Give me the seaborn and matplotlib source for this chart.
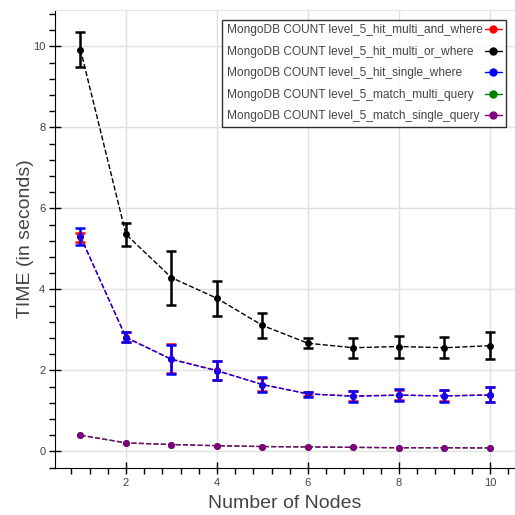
import numpy as np
import pandas as pd
import matplotlib
matplotlib.use("Agg")
import matplotlib.pyplot as plt
import seaborn as sns
from matplotlib.ticker import MultipleLocator

nodes = [1, 2, 3, 4, 5, 6, 7, 8, 9, 10]

# hit_multi_and_where (red)
and_mean = [5.30, 2.82, 2.28, 2.00, 1.65, 1.42, 1.37, 1.39, 1.37, 1.40]
and_low = [5.17, 2.71, 1.93, 1.77, 1.48, 1.36, 1.25, 1.27, 1.25, 1.23]
and_high = [5.40, 2.95, 2.66, 2.23, 1.82, 1.47, 1.48, 1.52, 1.52, 1.59]

# hit_multi_or_where (black)
or_mean = [9.92, 5.36, 4.29, 3.78, 3.11, 2.67, 2.56, 2.59, 2.56, 2.61]
or_low = [9.50, 5.07, 3.62, 3.34, 2.80, 2.55, 2.30, 2.31, 2.30, 2.28]
or_high = [10.35, 5.64, 4.96, 4.21, 3.42, 2.79, 2.81, 2.86, 2.83, 2.94]

# hit_single_where (blue)
single_mean = [5.31, 2.81, 2.27, 1.99, 1.65, 1.42, 1.36, 1.39, 1.37, 1.39]
single_low = [5.09, 2.70, 1.91, 1.76, 1.47, 1.35, 1.23, 1.25, 1.23, 1.21]
single_high = [5.51, 2.96, 2.63, 2.24, 1.83, 1.47, 1.49, 1.53, 1.51, 1.60]

# match queries (green / purple), tiny spread
mmulti_mean = [0.40, 0.21, 0.17, 0.14, 0.12, 0.11, 0.10, 0.09, 0.09, 0.085]
msingle_mean = [0.40, 0.21, 0.17, 0.14, 0.12, 0.11, 0.10, 0.09, 0.09, 0.085]

labels = [
    "MongoDB COUNT level_5_hit_multi_and_where",
    "MongoDB COUNT level_5_hit_multi_or_where",
    "MongoDB COUNT level_5_hit_single_where",
    "MongoDB COUNT level_5_match_multi_query",
    "MongoDB COUNT level_5_match_single_query",
]
colors = ["red", "black", "blue", "green", "purple"]

series = [
    (and_mean, and_low, and_high),
    (or_mean, or_low, or_high),
    (single_mean, single_low, single_high),
    (mmulti_mean, mmulti_mean, mmulti_mean),
    (msingle_mean, msingle_mean, msingle_mean),
]

sns.set_style("white")
plt.rcParams['font.family'] = ['Liberation Sans', 'DejaVu Sans']

fig = plt.figure(figsize=(5.15, 5.15), dpi=100)
ax = fig.add_axes([55 / 515, 47 / 515, 460 / 515, 458 / 515])

for (m, lo, hi), c, lab in zip(series, colors, labels):
    df = pd.DataFrame({"nodes": nodes, "time": m})
    sns.lineplot(data=df, x="nodes", y="time", ax=ax, color=c, linestyle="--",
                 linewidth=1, marker="o", markersize=5, markeredgewidth=0,
                 label=lab, alpha=1)
    m = np.array(m)
    if not np.allclose(lo, hi):
        yerr = [m - np.array(lo), np.array(hi) - m]
        ax.errorbar(nodes, m, yerr=yerr, fmt="none", ecolor=c, elinewidth=1.8,
                    capsize=3.5, capthick=1.8, zorder=3)

ax.set_xlim(0.44, 10.55)
ax.set_ylim(-0.41, 10.9)
ax.xaxis.set_major_locator(MultipleLocator(2))
ax.yaxis.set_major_locator(MultipleLocator(2))
ax.xaxis.set_minor_locator(MultipleLocator(0.4))
ax.yaxis.set_minor_locator(MultipleLocator(0.4))
ax.tick_params(which="major", direction="inout", length=8, width=1, color="black",
               labelsize=8, labelcolor="#444444", bottom=True, left=True, pad=3)
ax.tick_params(which="minor", direction="out", length=4, width=1, color="black",
               bottom=True, left=True)
ax.grid(True, which="major", color="#e0e0e0", linewidth=1)
ax.set_axisbelow(True)

ax.spines["top"].set_color("#e5e5e5")
ax.spines["right"].set_visible(False)
ax.spines["left"].set_color("black")
ax.spines["bottom"].set_color("black")

ax.set_xlabel("Number of Nodes", fontsize=14, color="#444444", labelpad=5)
ax.set_ylabel("TIME (in seconds)", fontsize=14, color="#444444", labelpad=-1)

leg = ax.legend(loc="upper right", bbox_to_anchor=(0.980, 0.978), borderaxespad=0,
                markerfirst=False, fontsize=8.6, frameon=True, fancybox=False,
                edgecolor="black", handlelength=1.4, handletextpad=0.2,
                labelspacing=0.8, borderpad=0.35, labelcolor="#444444")
leg.get_frame().set_linewidth(1)
for h in leg.legend_handles:
    h.set_linestyle("-")
    h.set_markersize(6)

# labels left-aligned, markers in a column on the right
fig.canvas.draw()
renderer = fig.canvas.get_renderer()
column = leg._legend_handle_box.get_children()[0]
rows = column.get_children()
wmax = max(r.get_bbox(renderer).width for r in rows)
for r in rows:
    r.width = wmax
    r.mode = "expand"

fig.savefig("out.png", dpi=100)
